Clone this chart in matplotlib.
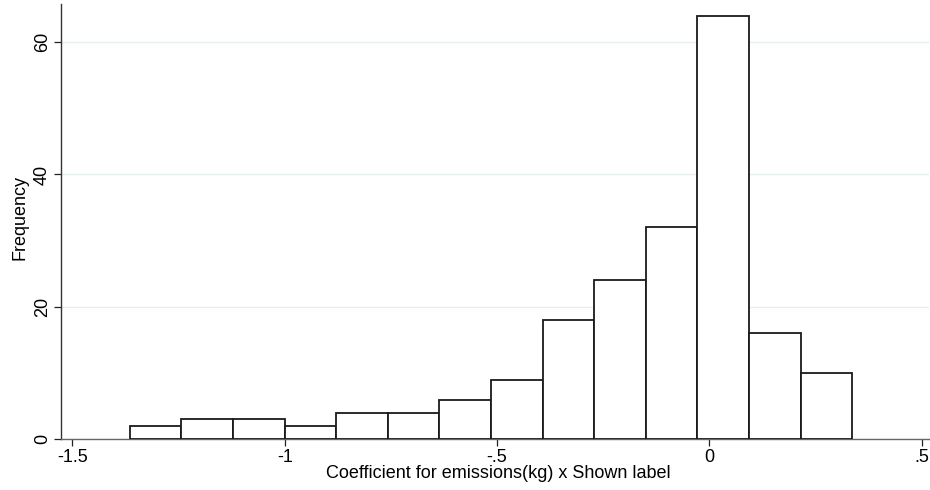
import numpy as np
import matplotlib.pyplot as plt

plt.rcParams['font.family'] = ['Liberation Sans', 'DejaVu Sans']

# Histogram data
bin_start = -1.3647
bin_width = 0.1215
counts = [2, 3, 3, 2, 4, 4, 6, 9, 18, 24, 32, 64, 16, 10]
x_ticks = [-1.5, -1.0, -0.5, 0.0, 0.5]
x_labels = ['-1.5', '-1', '-.5', '0', '.5']
y_ticks = [0, 20, 40, 60]

edges = bin_start + bin_width * np.arange(len(counts))

fig = plt.figure(figsize=(9.3, 4.9), dpi=100)
ax = fig.add_axes([60.5 / 930, 50.7 / 490, (929 - 60.5) / 930, (485.7 - 50.7) / 490])

ax.bar(edges, counts, width=bin_width, align='edge', facecolor='white',
       edgecolor='#1a1a1a', linewidth=1.3, zorder=3)

ax.set_xlim(-1.528, 0.517)
ax.set_ylim(0, 65.7)
ax.set_xticks(x_ticks)
ax.set_xticklabels(x_labels)
ax.set_yticks(y_ticks)
ax.set_yticklabels([str(v) for v in y_ticks], rotation=90, va='center')

ax.grid(axis='y', color='#e6efef', linewidth=1, zorder=0)
ax.tick_params(direction='out', length=5, width=0.9, labelsize=13, pad=2, colors='#222222')
ax.tick_params(axis='x', labelcolor='black')
ax.tick_params(axis='y', labelcolor='black')

for s in ['top', 'right']:
    ax.spines[s].set_visible(False)
ax.spines['left'].set_color('#333333')
ax.spines['bottom'].set_color('#666666')
ax.spines['left'].set_linewidth(1.0)
ax.spines['bottom'].set_linewidth(1.0)

ax.set_xlabel('Coefficient for emissions(kg) x Shown label', fontsize=13, labelpad=0)
ax.set_ylabel('Frequency', fontsize=13, labelpad=3)
ax.xaxis.set_label_coords(0.504, -0.058)
ax.yaxis.set_label_coords(-0.037, 0.51)

fig.savefig('out.png', dpi=100, facecolor='white')
